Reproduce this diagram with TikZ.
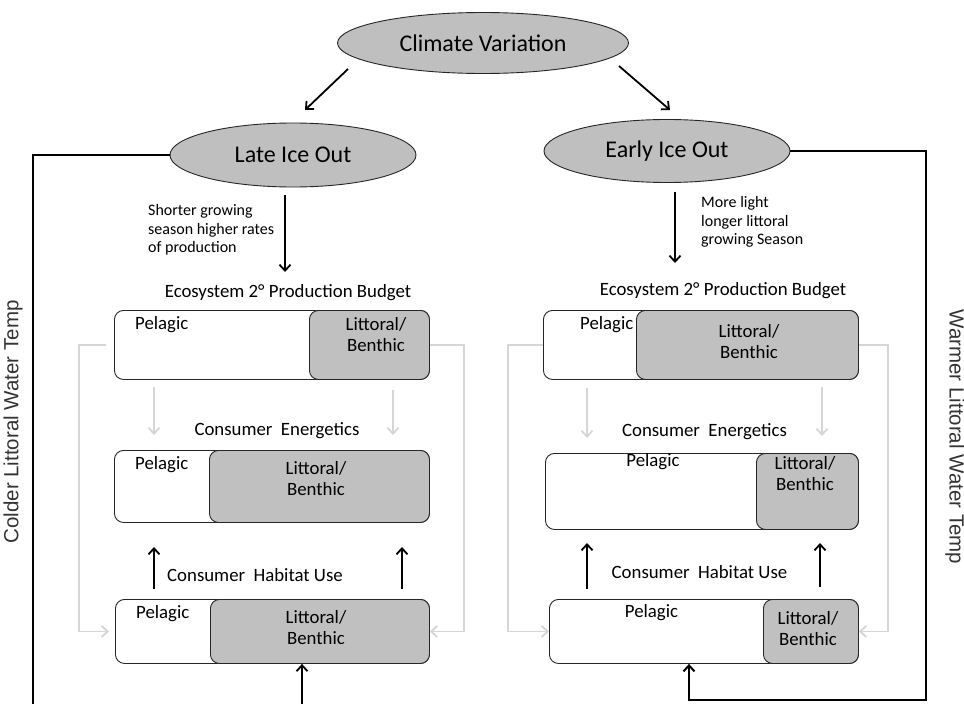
\documentclass[tikz,border=0pt]{standalone}
\usepackage{fontspec}
\setmainfont{Carlito}
\newfontfamily\sidefont{Liberation Sans}
\usetikzlibrary{shapes.geometric,arrows.meta}
\definecolor{boxgray}{HTML}{C0C0C0}
\definecolor{ellgray}{HTML}{BFBFBF}
\definecolor{fbgray}{HTML}{D6D6D6}
\definecolor{edgec}{HTML}{262626}
\begin{document}
\begin{tikzpicture}[x=1pt,y=-1pt,
  ell/.style={ellipse, draw=edgec, line width=0.9pt, fill=ellgray, inner sep=0pt, font=\fontsize{24}{28}\selectfont},
  outerbox/.style={draw=edgec, line width=0.9pt, fill=white, rounded corners=9pt, inner sep=0pt, anchor=north west},
  litbox/.style={draw=edgec, line width=0.9pt, fill=boxgray, rounded corners=9pt, inner sep=0pt, anchor=north east},
  lbl/.style={font=\fontsize{18.8}{21}\selectfont, inner sep=0pt, align=center},
  side/.style={font=\sidefont\fontsize{20.5}{24}\selectfont, inner sep=0pt, text=black!80},
  note/.style={font=\fontsize{16}{18.5}\selectfont, align=left, inner sep=0pt, anchor=west},
  mainarrow/.style={line width=1.8pt, -{Straight Barb[length=6pt,width=11pt]}},
  fbarrow/.style={draw=fbgray, line width=1.8pt, -{Straight Barb[length=6pt,width=11pt]}},
  bracket/.style={line width=2pt},
]
\useasboundingbox[fill=white] (0,0) rectangle (964,704);

% ellipses
\node[ell, minimum width=291, minimum height=61] (cv) at (483,43) {Climate Variation};
\node[ell, minimum width=246, minimum height=64] (lio) at (293,155) {Late Ice Out};
\node[ell, minimum width=246, minimum height=63] (eio) at (667,151) {Early Ice Out};

\coordinate (a1s) at (348,69);  \coordinate (a1e) at (305,110);
\coordinate (a2s) at (619,66);  \coordinate (a2e) at (670,110);
\draw[mainarrow] (a1s) -- (a1e);
\draw[mainarrow] (a2s) -- (a2e);

% notes and down arrows
\coordinate (l1s) at (285,195); \coordinate (l1e) at (285,272);
\coordinate (r1s) at (675,192); \coordinate (r1e) at (675,263);
\draw[mainarrow] (l1s) -- (l1e);
\draw[mainarrow] (r1s) -- (r1e);
\node[note] (lnote) at (148,230) {Shorter growing\\season higher rates\\of production};
\node[note] (rnote) at (701,222) {More light\\longer littoral\\growing Season};

% headers
\node[lbl] (lh1) at (288,293) {Ecosystem 2° Production Budget};
\node[lbl] (rh1) at (723,291) {Ecosystem 2° Production Budget};
\node[lbl] (lh2) at (277,431) {Consumer\hspace{0.45em}Energetics};
\node[lbl] (rh2) at (704.5,432) {Consumer\hspace{0.45em}Energetics};
\node[lbl] (lh3) at (255,575) {Consumer\hspace{0.45em}Habitat Use};
\node[lbl] (rh3) at (699.5,572) {Consumer\hspace{0.45em}Habitat Use};

% left boxes
\node[outerbox, minimum width=315, minimum height=69] (L1) at (114,310) {};
\node[litbox, minimum width=120, minimum height=69] (L1l) at (L1.north east) {};
\node[outerbox, minimum width=315, minimum height=72] (L2) at (114,450) {};
\node[litbox, minimum width=220, minimum height=72] (L2l) at (L2.north east) {};
\node[outerbox, minimum width=314, minimum height=64] (L3) at (115,599) {};
\node[litbox, minimum width=219, minimum height=64] (L3l) at (L3.north east) {};

\node[lbl, anchor=west] (L1p) at (135,325) {Pelagic};
\node[lbl] (L1t) at (376,335) {Littoral/\\Benthic};
\node[lbl, anchor=west] (L2p) at (135,465) {Pelagic};
\node[lbl] (L2t) at (316,478.5) {Littoral/\\Benthic};
\node[lbl, anchor=west] (L3p) at (136,614) {Pelagic};
\node[lbl] (L3t) at (316,627.5) {Littoral/\\Benthic};

% right boxes
\node[outerbox, minimum width=315, minimum height=69] (R1) at (543,310) {};
\node[litbox, minimum width=222, minimum height=69] (R1l) at (R1.north east) {};
\node[outerbox, minimum width=313, minimum height=76] (R2) at (545,453) {};
\node[litbox, minimum width=102, minimum height=76] (R2l) at (R2.north east) {};
\node[outerbox, minimum width=309, minimum height=64] (R3) at (549,599) {};
\node[litbox, minimum width=95, minimum height=64] (R3l) at (R3.north east) {};

\node[lbl, anchor=west] (R1p) at (580,325) {Pelagic};
\node[lbl] (R1t) at (749,342) {Littoral/\\Benthic};
\node[lbl] (R2p) at (653,462) {Pelagic};
\node[lbl] (R2t) at (805,473.5) {Littoral/\\Benthic};
\node[lbl] (R3p) at (651.5,613) {Pelagic};
\node[lbl] (R3t) at (808,629) {Littoral/\\Benthic};

% gray down arrows
\coordinate (g1s) at (154,387); \coordinate (g1e) at (154,435);
\coordinate (g2s) at (393,390); \coordinate (g2e) at (393,435);
\coordinate (g3s) at (587,388); \coordinate (g3e) at (587,438);
\coordinate (g4s) at (822,387); \coordinate (g4e) at (822,436);
\draw[fbarrow] (g1s) -- (g1e);
\draw[fbarrow] (g2s) -- (g2e);
\draw[fbarrow] (g3s) -- (g3e);
\draw[fbarrow] (g4s) -- (g4e);

% black up arrows
\coordinate (u1s) at (154,589); \coordinate (u1e) at (154,547);
\coordinate (u2s) at (402,589); \coordinate (u2e) at (402,547);
\coordinate (u3s) at (587,589); \coordinate (u3e) at (587,543);
\coordinate (u4s) at (820,587); \coordinate (u4e) at (820,543);
\draw[mainarrow] (u1s) -- (u1e);
\draw[mainarrow] (u2s) -- (u2e);
\draw[mainarrow] (u3s) -- (u3e);
\draw[mainarrow] (u4s) -- (u4e);

% gray feedback loops
\coordinate (lfa) at (79,500);  \coordinate (lfb) at (464,500);
\coordinate (rfa) at (508,500); \coordinate (rfb) at (888,500);
\draw[fbarrow, shorten <=8pt, shorten >=6pt] (L1.west) -| (lfa) |- (L3.west);
\draw[fbarrow] (L1.east) -| (lfb) |- (L3.east);
\draw[fbarrow] (R1.west) -| (rfa) |- (R3.west);
\draw[fbarrow] (R1.east) -| (rfb) |- (R3.east);

% black brackets
\coordinate (lcorner) at (33,704);
\draw[bracket] (lio.west) -| (lcorner);
\coordinate (lbot) at (302,704);
\draw[mainarrow] (lbot) -- (lbot |- L3.south);
\coordinate (rcorner) at (926,700);
\coordinate (rbx) at (689,700);
\draw[bracket, -{Straight Barb[length=6pt,width=11pt]}] (eio.east) -| (rcorner) -- (rbx) -- (rbx |- R3.south);

% side labels
\node[side, rotate=90] (cold) at (13,422) {Colder Littoral Water Temp};
\node[side, rotate=-90] (warm) at (955,437) {Warmer Littoral Water Temp};
\end{tikzpicture}
\end{document}
